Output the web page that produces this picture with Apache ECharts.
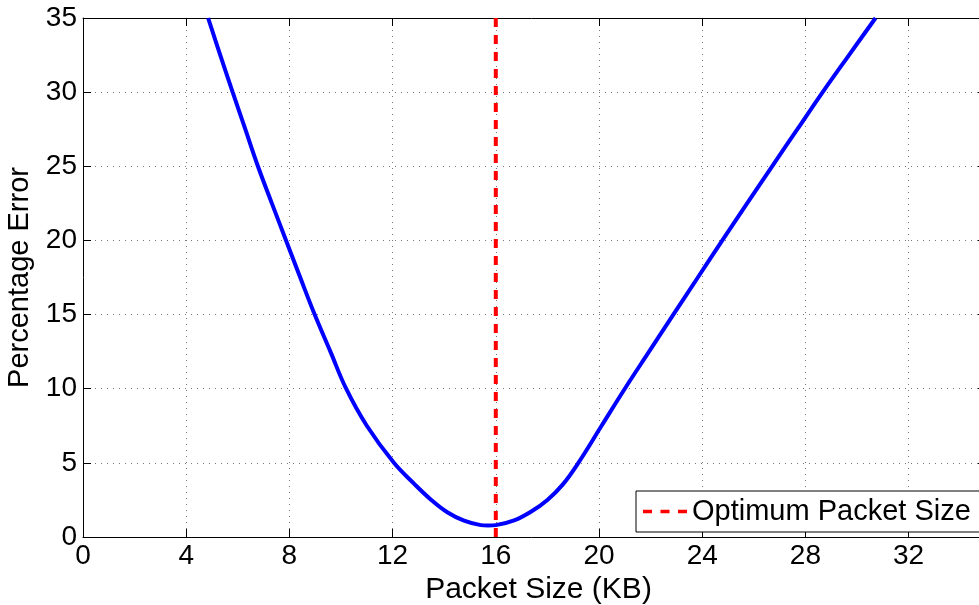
<!DOCTYPE html>
<html>
<head>
<meta charset="utf-8">
<script src="https://cdn.jsdelivr.net/npm/echarts@6/dist/echarts.min.js"></script>
<style>
html,body{margin:0;padding:0;background:#fff;}
#chart{width:979px;height:605px;}
</style>
</head>
<body>
<div id="chart"></div>
<script>
// Data
const packetSize = [4.85, 5.32, 5.8, 6.29, 6.78, 7.32, 7.87, 8.42, 8.98, 9.59, 10.2, 11.0, 12.05, 12.83, 13.5, 14.12, 14.77, 15.42, 15.7, 16.0, 16.71, 17.36, 18.0, 18.6, 19.2, 20.1, 21.0, 21.94, 22.88, 23.83, 24.78, 25.74, 26.71, 27.69, 28.67, 29.69, 30.72];
const percentError = [35, 32.5, 30, 27.5, 25, 22.5, 20, 17.5, 15, 12.5, 10, 7.5, 5, 3.6, 2.5, 1.67, 1.1, 0.8, 0.77, 0.8, 1.12, 1.7, 2.5, 3.55, 5, 7.5, 10, 12.5, 15, 17.5, 20, 22.5, 25, 27.5, 30, 32.5, 35];
const optimumX = [16, 16];
const optimumY = [0, 35];
const xTicks = [0, 4, 8, 12, 16, 20, 24, 28, 32];
const yTicks = [0, 5, 10, 15, 20, 25, 30, 35];
const legendLabel = 'Optimum Packet Size';

const FONT = "'Liberation Sans', Arial, Helvetica, sans-serif";
const chart = echarts.init(document.getElementById('chart'), null, {renderer: 'canvas'});

const curve = packetSize.map((x, i) => [x, percentError[i]]);
const optLine = optimumX.map((x, i) => [x, optimumY[i]]);

const gridLine = {show: true, lineStyle: {color: '#777', width: 1, type: [1, 5]}};
const tickIn = {show: true, inside: true, length: 8, lineStyle: {color: '#000', width: 1}};

chart.setOption({
  animation: false,
  backgroundColor: '#fff',
  grid: {left: 83, top: 18, width: 903, height: 519, containLabel: false, outerBoundsMode: 'none'},
  legend: {
    data: [legendLabel],
    left: 636, top: 491,
    padding: [6, 20, 6, 7],
    itemWidth: 44, itemHeight: 14,
    icon: 'path://M0,0h9v3.4h-9z M17.5,0h9v3.4h-9z M35,0h9v3.4h-9z',
    backgroundColor: '#fff',
    borderColor: '#000', borderWidth: 1, borderRadius: 0,
    textStyle: {fontFamily: FONT, fontSize: 29, color: '#000', padding: [2, 0, 0, 0]},
    selectedMode: false
  },
  xAxis: [{
    type: 'value', min: 0, max: 35, interval: 4,
    name: 'Packet Size (KB)', nameLocation: 'middle', nameGap: 38,
    nameTextStyle: {fontFamily: FONT, fontSize: 30, color: '#000', padding: [0, 0, 0, 8]},
    axisLine: {show: true, onZero: false, lineStyle: {color: '#000', width: 1}},
    axisTick: tickIn,
    axisLabel: {fontFamily: FONT, fontSize: 28, color: '#000', margin: 5, showMaxLabel: false,
      formatter: v => xTicks.includes(v) ? String(v) : ''},
    splitLine: gridLine
  }, {
    type: 'value', min: 0, max: 35, interval: 4, position: 'top',
    axisLine: {show: true, onZero: false, lineStyle: {color: '#000', width: 1}},
    axisTick: tickIn, axisLabel: {show: false}, splitLine: {show: false}
  }],
  yAxis: [{
    type: 'value', min: 0, max: 35, interval: 5,
    name: 'Percentage Error', nameLocation: 'middle', nameGap: 45, nameRotate: 90,
    nameTextStyle: {fontFamily: FONT, fontSize: 29, color: '#000'},
    axisLine: {show: true, onZero: false, lineStyle: {color: '#000', width: 1}},
    axisTick: tickIn,
    axisLabel: {fontFamily: FONT, fontSize: 28, color: '#000', margin: 6,
      formatter: v => yTicks.includes(v) ? String(v) : ''},
    splitLine: gridLine
  }, {
    type: 'value', min: 0, max: 35, interval: 5, position: 'right',
    axisLine: {show: true, onZero: false, lineStyle: {color: '#000', width: 1}},
    axisTick: tickIn, axisLabel: {show: false}, splitLine: {show: false}
  }],
  series: [{
    name: 'Percentage Error',
    type: 'line', data: curve, smooth: 0.4, symbol: 'none',
    lineStyle: {color: '#0000ff', width: 4}, itemStyle: {color: '#0000ff'},
    clip: true, z: 2
  }, {
    name: legendLabel,
    type: 'line', data: optLine, symbol: 'none',
    lineStyle: {color: '#ff0000', width: 4, type: [9, 8]}, itemStyle: {color: '#ff0000'},
    clip: true, z: 3
  }]
});
</script>
</body>
</html>
